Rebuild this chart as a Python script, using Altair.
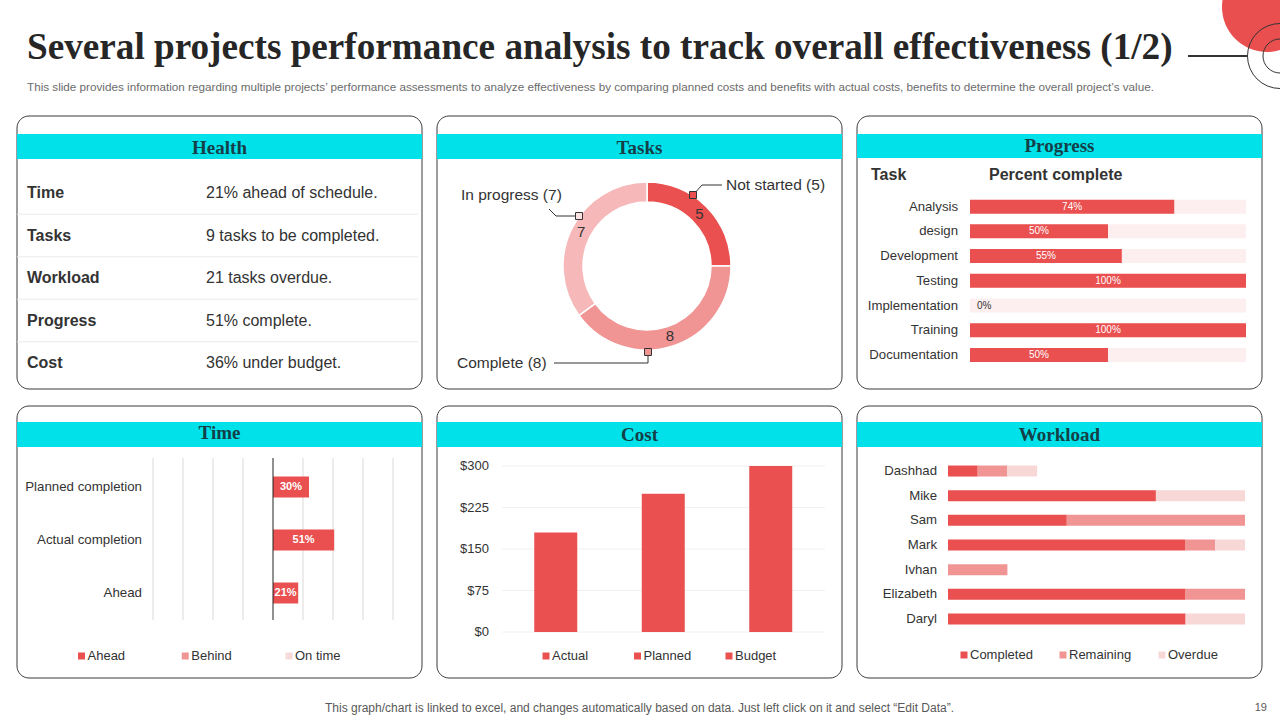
import altair as alt
import pandas as pd

# ---------------- data ----------------
title = "Several projects performance analysis to track overall effectiveness (1/2)"
subtitle = ("This slide provides information regarding multiple projects’ performance assessments to analyze "
            "effectiveness by comparing planned costs and benefits with actual costs, benefits to determine the "
            "overall project’s value.")
footer = "This graph/chart is linked to excel,  and changes automatically based on data. Just left click on it and select “Edit Data”."
page_no = "19"

health_keys = ["Time", "Tasks", "Workload", "Progress", "Cost"]
health_vals = ["21% ahead of schedule.", "9 tasks to be completed.", "21 tasks overdue.",
               "51% complete.", "36% under budget."]

task_status = ["Not started", "Complete", "In progress"]
task_counts = [5, 8, 7]

progress_tasks = ["Analysis", "design", "Development", "Testing", "Implementation", "Training", "Documentation"]
progress_pct = [0.74, 0.50, 0.55, 1.00, 0.00, 1.00, 0.50]

time_cats = ["Planned completion", "Actual completion", "Ahead"]
time_vals = [0.30, 0.51, 0.21]
time_series = ["Ahead", "Behind", "On time"]
time_ticks = [-1, -0.75, -0.5, -0.25, 0, 0.25, 0.5, 0.75, 1]

cost_cats = ["Actual", "Planned", "Budget"]
cost_vals = [180, 250, 300]
cost_ticks = [0, 75, 150, 225, 300]

workload_people = ["Dashhad", "Mike", "Sam", "Mark", "Ivhan", "Elizabeth", "Daryl"]
workload_series = ["Completed", "Remaining", "Overdue"]
workload_completed = [1, 7, 4, 8, 0, 8, 8]
workload_remaining = [1, 0, 6, 1, 2, 2, 0]
workload_overdue = [1, 3, 0, 1, 0, 0, 2]

# ---------------- styles ----------------
RED = "#E9504F"
PINK = "#F09494"
LIGHT = "#F8D7D7"
INPROG = "#F6B8B8"
BG = "#FDEFEF"
CYAN = "#00E1E9"
HEAD = "#143F48"
TXT = "#333333"
SANS = "Liberation Sans"
SERIF = "Liberation Serif"

one = pd.DataFrame({"k": [0]})


def txt(s, x, y, size, align="left", baseline="middle", font=SANS, weight="normal", color=TXT):
    return alt.Chart(one).mark_text(text=s, align=align, baseline=baseline, font=font, fontSize=size,
                                    fontWeight=weight, color=color).encode(x=alt.value(x), y=alt.value(y))


def rect(x, x2, y, y2, **kw):
    return alt.Chart(one).mark_rect(**kw).encode(x=alt.value(x), x2=alt.value(x2), y=alt.value(y), y2=alt.value(y2))


def line(x, y, x2, y2, color=TXT, width=1):
    return alt.Chart(one).mark_rule(color=color, strokeWidth=width).encode(
        x=alt.value(x), y=alt.value(y), x2=alt.value(x2), y2=alt.value(y2))


def panel(x0, x1, y0, y1, by0, by1, name, ty):
    return [
        rect(x0, x1, y0, y1, fill="white", stroke="#3A3A3A", strokeWidth=1, cornerRadius=12),
        rect(x0, x1, by0, by1, fill=CYAN),
        txt(name, (x0 + x1) / 2, ty, 19, align="center", font=SERIF, weight="bold", color=HEAD),
    ]


def legend(series, colors, x0, x1, y):
    df = pd.DataFrame({"s": series})
    xs = alt.X("s:N", scale=alt.Scale(domain=series, range=[x0, x1], type="point", padding=0), axis=None)
    sq = alt.Chart(df).mark_square(size=49, opacity=1).encode(
        x=xs, y=alt.value(y),
        color=alt.Color("s:N", scale=alt.Scale(domain=series, range=colors), legend=None))
    tx = alt.Chart(df).mark_text(align="left", dx=6, font=SANS, fontSize=13, color=TXT).encode(
        x=xs, y=alt.value(y), text="s:N")
    return [sq, tx]


layers = []

# ---------------- header ----------------
layers += [
    alt.Chart(one).mark_point(shape="circle", size=8100, filled=True, color="#EA4F4F", opacity=1).encode(
        x=alt.value(1267), y=alt.value(7)),
    alt.Chart(one).mark_point(shape="circle", size=4225, filled=False, color="#333333", strokeWidth=1, opacity=1).encode(
        x=alt.value(1280), y=alt.value(56)),
    alt.Chart(one).mark_point(shape="circle", size=1156, filled=False, color="#333333", strokeWidth=1, opacity=1).encode(
        x=alt.value(1280), y=alt.value(56)),
    line(1188, 56, 1247, 56, color="#333333", width=2),
    txt(title, 27, 59, 37.2, baseline="alphabetic", font=SERIF, weight="bold", color="#262626"),
    txt(subtitle, 27, 87, 11.7, color="#6B6B6B"),
    txt(footer, 325, 708, 12, color="#595959"),
    txt(page_no, 1267, 708, 11, align="right", color="#595959"),
]

# ---------------- Health ----------------
layers += panel(17, 422, 116, 389, 134, 159, "Health", 148)
hdf = pd.DataFrame({"key": health_keys, "val": health_vals})
hy_scale = alt.Scale(domain=health_keys, range=[171.75, 384.25], paddingInner=0, paddingOuter=0)
layers += [
    alt.Chart(hdf).transform_filter("datum.key != 'Cost'").mark_rule(color="#EBEBEB", strokeWidth=1).encode(
        y=alt.Y("key:N", scale=hy_scale, axis=None, bandPosition=1), x=alt.value(17), x2=alt.value(418)),
    alt.Chart(hdf).mark_text(align="left", font=SANS, fontSize=16, fontWeight="bold", color=TXT).encode(
        y=alt.Y("key:N", scale=hy_scale, axis=None), x=alt.value(27), text="key:N"),
    alt.Chart(hdf).mark_text(align="left", font=SANS, fontSize=16, color=TXT).encode(
        y=alt.Y("key:N", scale=hy_scale, axis=None), x=alt.value(206), text="val:N"),
]

# ---------------- Tasks ----------------
layers += panel(437, 842, 116, 389, 134, 159, "Tasks", 148)
tdf = pd.DataFrame({"status": task_status, "count": task_counts, "order": list(range(len(task_status)))})
tcolor = alt.Color("status:N", scale=alt.Scale(domain=task_status, range=[RED, PINK, INPROG]), legend=None)
CX, CY = 647, 266
layers += [
    alt.Chart(tdf).mark_arc(outerRadius=84, innerRadius=64, stroke="white", strokeWidth=1.5).encode(
        theta=alt.Theta("count:Q", stack=True), color=tcolor, order=alt.Order("order:Q"),
        x=alt.value(CX), y=alt.value(CY)),
    alt.Chart(tdf).mark_text(radius=74, font=SANS, fontSize=15, color=TXT).encode(
        theta=alt.Theta("count:Q", stack=True), order=alt.Order("order:Q"), text="count:Q",
        x=alt.value(CX), y=alt.value(CY)),
]


def callout(status, tx, ty, align):
    return alt.Chart(tdf).transform_filter(alt.datum.status == status).transform_calculate(
        lab="datum.status + ' (' + datum.count + ')'").mark_text(
        align=align, font=SANS, fontSize=15.5, color=TXT).encode(x=alt.value(tx), y=alt.value(ty), text="lab:N")


def marker(x, y, color):
    return alt.Chart(one).mark_square(size=49, color=color, opacity=1, stroke="#333333", strokeWidth=1).encode(
        x=alt.value(x), y=alt.value(y))


layers += [
    line(693, 195, 702, 185), line(702, 185, 722, 185),
    line(549, 209, 556, 216), line(556, 216, 579, 216),
    line(554, 363, 648, 363), line(648, 363, 648, 352),
    marker(693, 195, RED), marker(579, 216, "#FBE3E3"), marker(648, 352, PINK),
    callout("Not started", 726, 185, "left"),
    callout("In progress", 461, 195, "left"),
    callout("Complete", 457, 363, "left"),
]

# ---------------- Progress ----------------
layers += panel(857, 1262, 116, 389, 134, 158, "Progress", 146)
pdf = pd.DataFrame({"task": progress_tasks, "pct": progress_pct, "full": [1.0] * len(progress_tasks)})
py = alt.Y("task:N", scale=alt.Scale(domain=progress_tasks, range=[194.3, 367.3], paddingInner=0, paddingOuter=0),
           axis=None)
px = alt.Scale(domain=[0, 1], range=[970, 1246])
layers += [
    txt("Task", 871, 175, 16, weight="bold"),
    txt("Percent complete", 989, 175, 16, weight="bold"),
    alt.Chart(pdf).mark_bar(size=14, color=BG).encode(x=alt.X("full:Q", scale=px, axis=None), y=py),
    alt.Chart(pdf).mark_bar(size=14, color=RED).encode(x=alt.X("pct:Q", scale=px, axis=None), y=py),
    alt.Chart(pdf).transform_filter("datum.pct > 0").transform_calculate(
        mid="datum.pct / 2", lab="format(datum.pct, '.0%')").mark_text(
        font=SANS, fontSize=10, color="white").encode(x=alt.X("mid:Q", scale=px, axis=None), y=py, text="lab:N"),
    alt.Chart(pdf).transform_filter("datum.pct == 0").transform_calculate(
        lab="format(datum.pct, '.0%')").mark_text(
        align="left", dx=7, font=SANS, fontSize=10, color=TXT).encode(
        x=alt.X("pct:Q", scale=px, axis=None), y=py, text="lab:N"),
    alt.Chart(pdf).mark_text(align="right", font=SANS, fontSize=13.2, color=TXT).encode(
        x=alt.value(958), y=py, text="task:N"),
]

# ---------------- Time ----------------
layers += panel(17, 422, 406, 678, 422, 447, "Time", 433)
tmdf = pd.DataFrame({"cat": time_cats, "val": time_vals})
tkdf = pd.DataFrame({"t": time_ticks})
tx_s = alt.Scale(domain=[-1, 1], range=[153, 393])
ty = alt.Y("cat:N", scale=alt.Scale(domain=time_cats, range=[460.5, 619.5], paddingInner=0, paddingOuter=0),
           axis=None)
layers += [
    alt.Chart(tkdf).transform_filter("datum.t != 0").mark_rule(color="#D9D9D9", strokeWidth=1).encode(
        x=alt.X("t:Q", scale=tx_s, axis=None), y=alt.value(458), y2=alt.value(620)),
    alt.Chart(tmdf).mark_bar(size=21, color=RED).encode(x=alt.X("val:Q", scale=tx_s, axis=None), y=ty),
    alt.Chart(tkdf).transform_filter("datum.t == 0").mark_rule(color="#222222", strokeWidth=1).encode(
        x=alt.X("t:Q", scale=tx_s, axis=None), y=alt.value(458), y2=alt.value(620)),
    alt.Chart(tmdf).transform_calculate(mid="datum.val / 2", lab="format(datum.val, '.0%')").mark_text(
        font=SANS, fontSize=11, fontWeight="bold", color="white").encode(
        x=alt.X("mid:Q", scale=tx_s, axis=None), y=ty, text="lab:N"),
    alt.Chart(tmdf).mark_text(align="right", font=SANS, fontSize=13.3, color=TXT).encode(
        x=alt.value(142), y=ty, text="cat:N"),
]
layers += legend(time_series, [RED, PINK, "#F6D9DB"], 81.5, 289, 656)

# ---------------- Cost ----------------
layers += panel(437, 842, 406, 678, 422, 447, "Cost", 435)
cdf = pd.DataFrame({"cat": cost_cats, "val": cost_vals})
ctdf = pd.DataFrame({"t": cost_ticks})
cy_s = alt.Scale(domain=[0, 300], range=[632, 466])
cx = alt.X("cat:N", scale=alt.Scale(domain=cost_cats, range=[502, 824.5], paddingInner=0, paddingOuter=0),
           axis=None)
layers += [
    alt.Chart(ctdf).mark_rule(color="#F0F0F0", strokeWidth=1).encode(
        y=alt.Y("t:Q", scale=cy_s, axis=None), x=alt.value(502), x2=alt.value(825)),
    alt.Chart(cdf).mark_bar(size=43, color=RED).encode(x=cx, y=alt.Y("val:Q", scale=cy_s, axis=None)),
    alt.Chart(ctdf).transform_calculate(lab="'$' + datum.t").mark_text(
        align="right", font=SANS, fontSize=13, color=TXT).encode(
        y=alt.Y("t:Q", scale=cy_s, axis=None), x=alt.value(489), text="lab:N"),
]
layers += legend(cost_cats, [RED, RED, RED], 546, 729, 656)

# ---------------- Workload ----------------
layers += panel(857, 1262, 406, 678, 422, 447, "Workload", 435)
rows = []
for i, p in enumerate(workload_people):
    for j, (s, v) in enumerate(zip(workload_series,
                                   [workload_completed[i], workload_remaining[i], workload_overdue[i]])):
        rows.append({"person": p, "series": s, "value": v, "idx": j})
wdf = pd.DataFrame(rows)
wx = alt.Scale(domain=[0, 10], range=[948, 1245])
wy = alt.Y("person:N", scale=alt.Scale(domain=workload_people, range=[458.7, 631.3], paddingInner=0,
                                       paddingOuter=0), axis=None)
layers += [
    alt.Chart(wdf).mark_bar(size=11).encode(
        x=alt.X("value:Q", stack="zero", scale=wx, axis=None), y=wy,
        color=alt.Color("series:N", scale=alt.Scale(domain=workload_series, range=[RED, PINK, LIGHT]), legend=None),
        order=alt.Order("idx:Q")),
    alt.Chart(pd.DataFrame({"person": workload_people})).mark_text(
        align="right", font=SANS, fontSize=13.2, color=TXT).encode(x=alt.value(937), y=wy, text="person:N"),
]
layers += legend(workload_series, [RED, PINK, LIGHT], 964, 1162, 655)

chart = alt.layer(*layers).resolve_scale(
    x="independent", y="independent", color="independent", theta="independent"
).properties(
    width=1280, height=720, padding=0, background="white",
    autosize=alt.AutoSizeParams(type="none")
).configure_view(stroke=None)

chart.save("out.html", embed_options={"renderer": "svg", "actions": False})
